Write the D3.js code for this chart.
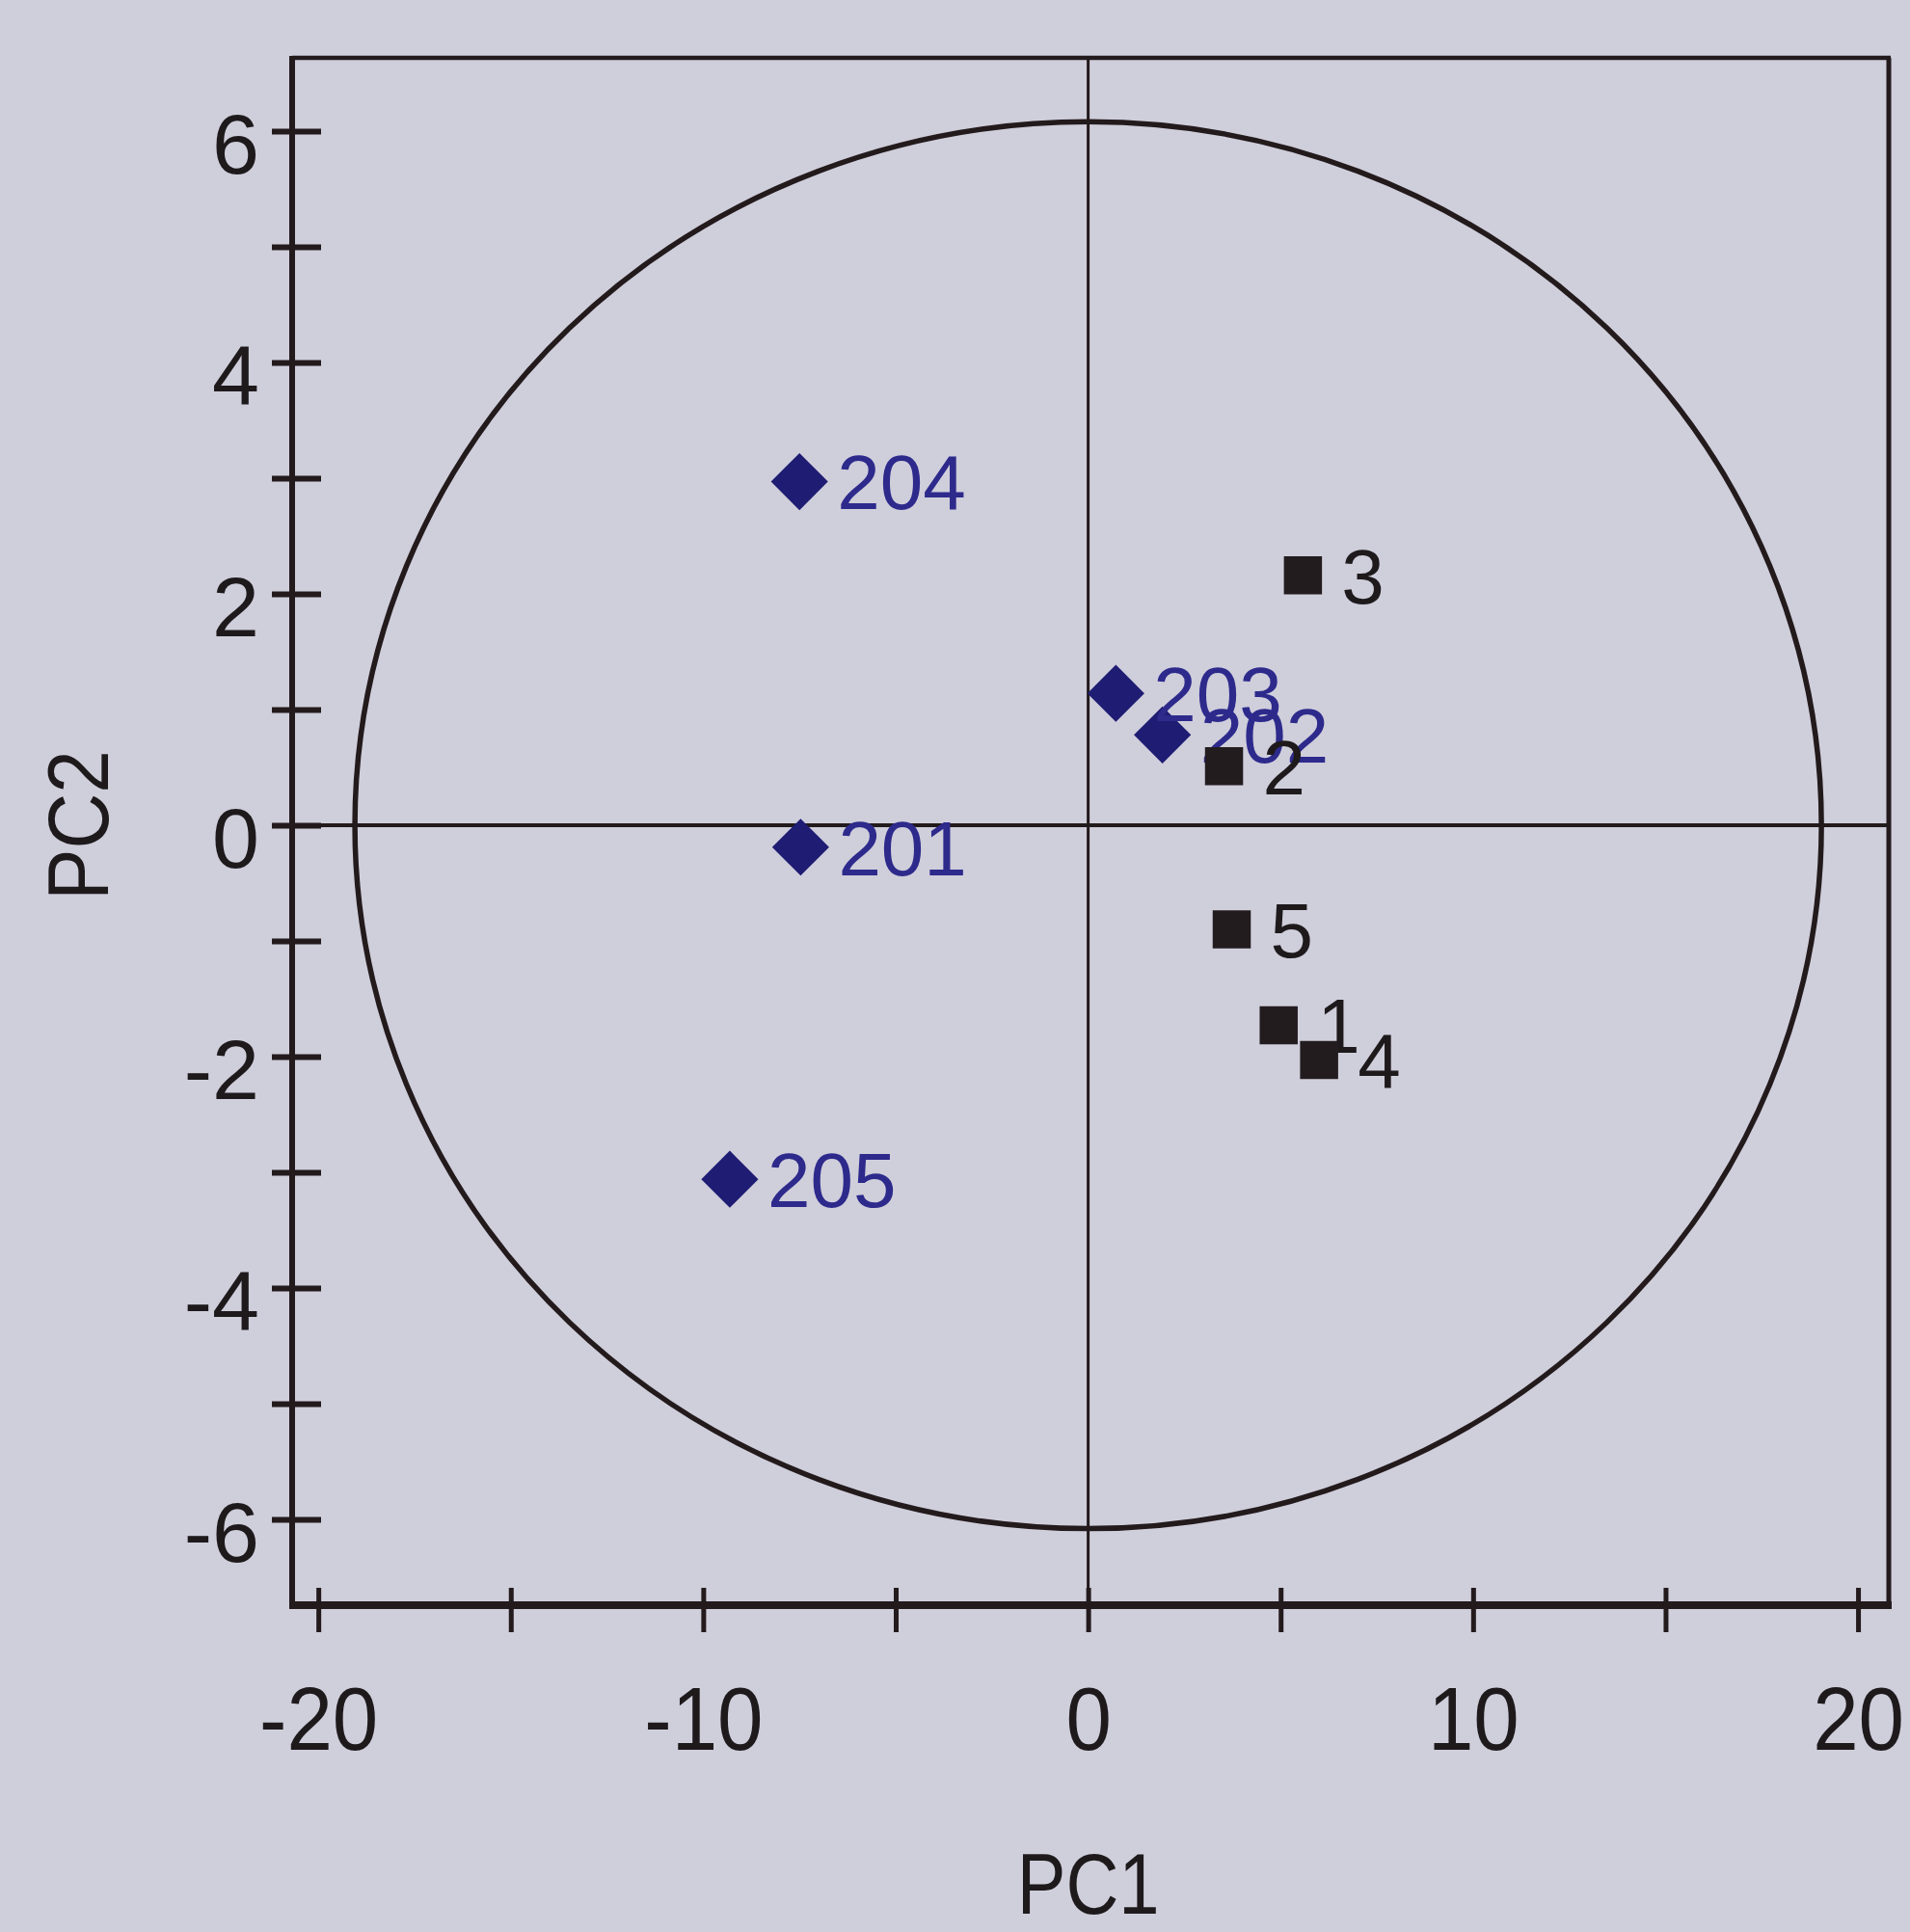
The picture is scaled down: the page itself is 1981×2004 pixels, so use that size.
<!DOCTYPE html>
<html>
<head>
<meta charset="utf-8">
<script src="https://cdn.jsdelivr.net/npm/d3@7"></script>
<style>
  html, body { margin: 0; padding: 0; background: #cfcedb; }
  svg { display: block; }
  text { font-family: "Liberation Sans", Arial, sans-serif; }
</style>
</head>
<body>
<svg id="chart" width="1981" height="2004"></svg>
<script>
// ---- data ----
const groupA = ["201", "202", "203", "204", "205"];
const groupAx = [-7.47, 1.93, 0.72, -7.50, -9.31];
const groupAy = [-0.19, 0.78, 1.14, 2.97, -3.06];

const groupB = ["1", "2", "3", "4", "5"];
const groupBx = [4.95, 3.53, 5.58, 6.00, 3.73];
const groupBy = [-1.73, 0.51, 2.16, -2.03, -0.90];

const xTicks = [-20, -15, -10, -5, 0, 5, 10, 15, 20];
const xTickLabels = ["-20", "", "-10", "", "0", "", "10", "", "20"];
const yTicks = [-6, -5, -4, -3, -2, -1, 0, 1, 2, 3, 4, 5, 6];
const yTickLabels = ["-6", "", "-4", "", "-2", "", "0", "", "2", "", "4", "", "6"];

const ellipseRadii = [19.05, 6.08]; // confidence ellipse semi-axes (PC1, PC2)
const xTitle = "PC1";
const yTitle = "PC2";

// ---- layout ----
const L = 303, R = 1959, T = 60, B = 1665;
const svg = d3.select("#chart");
svg.append("rect").attr("width", 1981).attr("height", 2004).attr("fill", "#cfcedb");

const x = d3.scaleLinear().domain([-20.68, 20.8]).range([L, R]);
const y = d3.scaleLinear().domain([-6.742, 6.633]).range([B, T]);

const ink = "#231a1c";
const textInk = "#1e1a1c";

// zero lines
svg.append("line").attr("x1", L).attr("x2", R).attr("y1", y(0)).attr("y2", y(0))
  .attr("stroke", ink).attr("stroke-width", 4);
svg.append("line").attr("x1", x(0)).attr("x2", x(0)).attr("y1", T).attr("y2", B)
  .attr("stroke", ink).attr("stroke-width", 3);

// ellipse
svg.append("ellipse")
  .attr("cx", x(0)).attr("cy", y(0))
  .attr("rx", x(ellipseRadii[0]) - x(0))
  .attr("ry", y(0) - y(ellipseRadii[1]))
  .attr("fill", "none").attr("stroke", ink).attr("stroke-width", 5.5);

// frame
svg.append("line").attr("x1", L).attr("x2", R + 2).attr("y1", T).attr("y2", T).attr("stroke", ink).attr("stroke-width", 4.5);
svg.append("line").attr("x1", R).attr("x2", R).attr("y1", T).attr("y2", B).attr("stroke", ink).attr("stroke-width", 5);

// y axis
const yAxis = d3.axisLeft(y).tickValues(yTicks)
  .tickFormat((d, i) => yTickLabels[i]).tickSizeOuter(0).tickPadding(0);
const gy = svg.append("g").attr("transform", `translate(${L},0)`).call(yAxis);
gy.select(".domain").attr("stroke", ink).attr("stroke-width", 6)
  .attr("d", `M0,${T - 2}V${B + 3}`);
gy.selectAll(".tick line").attr("x1", 30).attr("x2", -21).attr("stroke", ink).attr("stroke-width", 6);
gy.selectAll(".tick text").attr("x", -34).attr("dy", "0.5em")
  .attr("font-size", 88).attr("fill", textInk).attr("font-family", "Liberation Sans, Arial, sans-serif");

// x axis
const xAxis = d3.axisBottom(x).tickValues(xTicks)
  .tickFormat((d, i) => xTickLabels[i]).tickSizeOuter(0).tickPadding(0);
const gx = svg.append("g").attr("transform", `translate(0,${B})`).call(xAxis);
gx.select(".domain").attr("stroke", ink).attr("stroke-width", 8)
  .attr("d", `M${L - 3},0H${R + 3}`);
gx.selectAll(".tick line").attr("y1", -18).attr("y2", 28).attr("stroke", ink).attr("stroke-width", 5);
gx.selectAll(".tick text").attr("y", 0).attr("dy", 0)
  .attr("transform", "translate(0,150) scale(1.04,1.14)")
  .attr("font-size", 82).attr("fill", textInk).attr("font-family", "Liberation Sans, Arial, sans-serif");

// titles
svg.append("text").attr("transform", `translate(${x(0)},1985) scale(1,1.16)`).attr("text-anchor", "middle")
  .attr("font-size", 76).attr("fill", textInk).text(xTitle);
svg.append("text").attr("transform", `translate(112,${y(0)}) rotate(-90) scale(1,1.12)`).attr("text-anchor", "middle")
  .attr("font-size", 80).attr("fill", textInk).text(yTitle);

// group A: diamonds (rotated squares)
const diamond = d3.symbol().type(d3.symbolSquare).size(1750);
const gA = svg.append("g");
groupA.forEach((name, i) => {
  const cx = x(groupAx[i]), cy = y(groupAy[i]);
  gA.append("path").attr("d", diamond())
    .attr("transform", `translate(${cx},${cy}) rotate(45)`)
    .attr("fill", "#1f1c73");
  gA.append("text").attr("x", cx + 39).attr("y", cy).attr("dy", "0.36em")
    .attr("font-size", 80).attr("fill", "#2d2a8c").text(name);
});

// group B: squares
const square = d3.symbol().type(d3.symbolSquare).size(1560);
const gB = svg.append("g");
groupB.forEach((name, i) => {
  const cx = x(groupBx[i]), cy = y(groupBy[i]);
  gB.append("path").attr("d", square())
    .attr("transform", `translate(${cx},${cy})`)
    .attr("fill", "#231c1f");
  gB.append("text").attr("x", cx + 40).attr("y", cy).attr("dy", "0.36em")
    .attr("font-size", 80).attr("fill", textInk).text(name);
});
</script>
</body>
</html>
